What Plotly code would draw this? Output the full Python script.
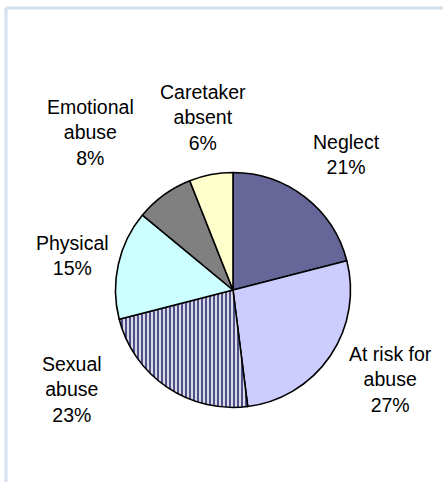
import plotly.graph_objects as go

# ---- data ----
categories = ["Neglect", "At risk for abuse", "Sexual abuse", "Physical", "Emotional abuse", "Caretaker absent"]
label_text = ["Neglect", "At risk for<br>abuse", "Sexual<br>abuse", "Physical", "Emotional<br>abuse", "Caretaker<br>absent"]
values = [21, 27, 23, 15, 8, 6]

# ---- style ----
W, H = 443, 482
colors = ["#666699", "#CCCCFF", "#FFFFFF", "#CCFFFF", "#808080", "#FFFFCC"]
pattern_shapes = ["", "", "|", "", "", ""]
# label centres in pixels (layout only)
label_px = [(346, 154), (390, 379), (72, 389), (72, 255), (90, 132), (203, 117)]

cx, cy, r = 233, 290, 117.5

fig = go.Figure(go.Pie(
    labels=categories,
    values=values,
    sort=False,
    direction="clockwise",
    rotation=0,
    textinfo="none",
    hoverinfo="label+percent",
    marker=dict(
        colors=colors,
        line=dict(color="black", width=1.6),
        pattern=dict(shape=pattern_shapes, fgcolor="#4F4F8A", bgcolor="#FFFFFF",
                     size=4, solidity=0.6, fillmode="replace"),
    ),
    domain=dict(x=[(cx - r) / W, (cx + r) / W], y=[1 - (cy + r) / H, 1 - (cy - r) / H]),
    showlegend=False,
))

total = sum(values)
annotations = []
for txt, v, (px, py) in zip(label_text, values, label_px):
    annotations.append(dict(
        x=px / W, y=1 - py / H, xref="paper", yref="paper",
        text=f"{txt}<br>{round(100 * v / total)}%",
        showarrow=False, align="center", xanchor="center", yanchor="middle",
        font=dict(family="Liberation Sans, Arial, sans-serif", size=19.5, color="black"),
    ))

frame_color = "#D3E0F0"
fig.update_layout(
    width=W, height=H,
    margin=dict(l=0, r=0, t=0, b=0),
    paper_bgcolor="white", plot_bgcolor="white",
    annotations=annotations,
    shapes=[
        dict(type="line", xref="paper", yref="paper", x0=6 / W, x1=6 / W, y0=0, y1=1 - 8 / H,
             line=dict(color=frame_color, width=3)),
        dict(type="line", xref="paper", yref="paper", x0=6 / W, x1=1, y0=1 - 8 / H, y1=1 - 8 / H,
             line=dict(color=frame_color, width=3)),
    ],
)

fig.write_html("out.html", config={"displayModeBar": False},
               post_script="document.body.style.margin='0';document.body.style.overflow='hidden';")
